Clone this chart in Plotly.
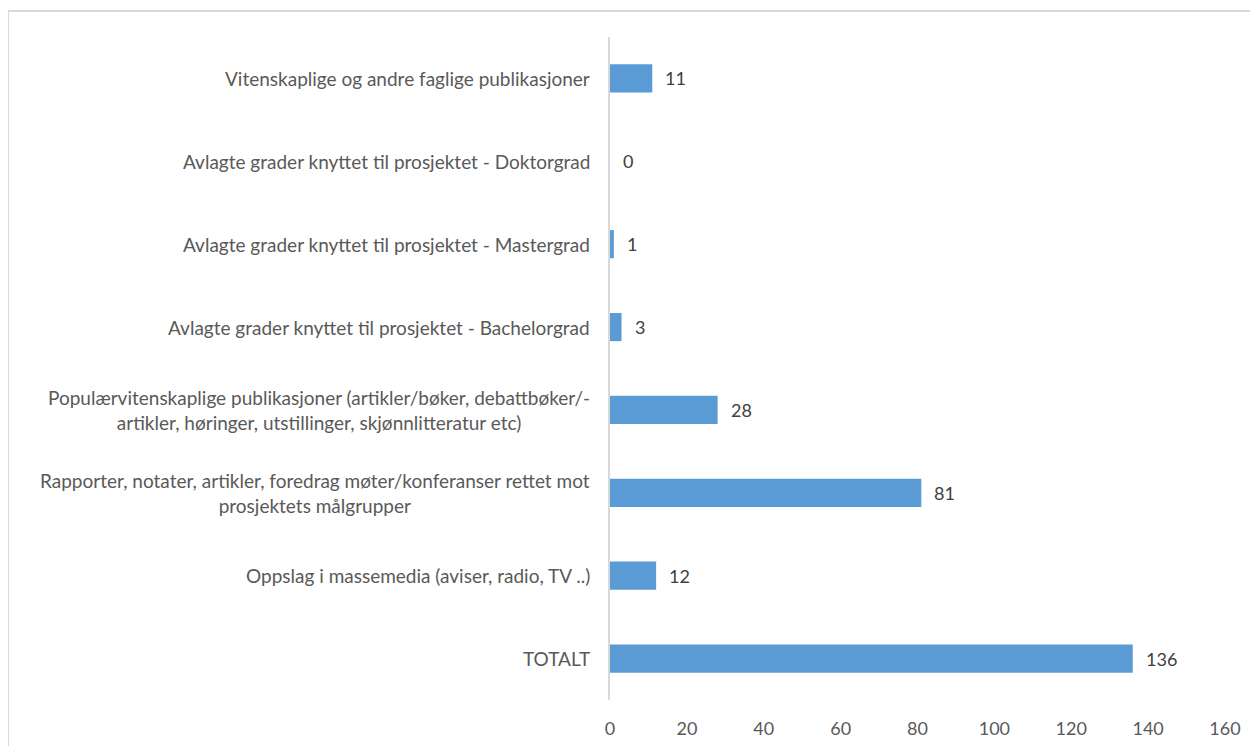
import plotly.graph_objects as go

categories = [
    "Vitenskaplige og andre faglige publikasjoner",
    "Avlagte grader knyttet til prosjektet - Doktorgrad",
    "Avlagte grader knyttet til prosjektet - Mastergrad",
    "Avlagte grader knyttet til prosjektet - Bachelorgrad",
    "Populærvitenskaplige publikasjoner (artikler/bøker, debattbøker/-<br>artikler, høringer, utstillinger, skjønnlitteratur etc)",
    "Rapporter, notater, artikler, foredrag møter/konferanser rettet mot<br>prosjektets målgrupper",
    "Oppslag i massemedia (aviser, radio, TV ..)",
    "TOTALT",
]
values = [11, 0, 1, 3, 28, 81, 12, 136]
x_ticks = [0, 20, 40, 60, 80, 100, 120, 140, 160]

FONT = "Lato"
GRAY = "#595959"

fig = go.Figure(go.Bar(
    x=values, y=categories, orientation="h",
    marker=dict(color="#5b9bd5", line=dict(width=0)),
    hoverinfo="skip",
))

annotations = []
for c, v in zip(categories, values):
    annotations.append(dict(
        x=v, y=c, xref="x", yref="y", text=str(v), showarrow=False,
        xanchor="left", xshift=11, font=dict(family=FONT, size=18, color="#404040"),
    ))
    annotations.append(dict(
        x=0, y=c, xref="paper", yref="y", text=c, showarrow=False,
        xanchor="right", align="center", xshift=-18,
        font=dict(family=FONT, size=19, color=GRAY),
    ))

# plot area: left 602, top 29, right 1217, bottom 692 (figure coords)
fig.update_layout(
    width=1258, height=746,
    margin=dict(l=602, r=41, t=29, b=54),
    paper_bgcolor="white", plot_bgcolor="white",
    bargap=0.66,
    showlegend=False,
    annotations=annotations,
    xaxis=dict(range=[0, 160], tickvals=x_ticks, showgrid=False, zeroline=False,
               showline=False, ticks="", ticklabelstandoff=16,
               tickfont=dict(family=FONT, size=18, color=GRAY)),
    yaxis=dict(categoryorder="array", categoryarray=categories, autorange="reversed",
               showticklabels=False, showgrid=False, zeroline=False,
               showline=True, linecolor="#d9d9d9", linewidth=2, ticks=""),
    shapes=[dict(type="rect", xref="paper", yref="paper",
                 x0=(0 - 602) / 615, x1=1.2, y0=-0.3, y1=1 + 26 / 663,
                 line=dict(color="#d9d9d9", width=2), fillcolor="rgba(0,0,0,0)",
                 layer="below")],
)

fig.write_html("out.html")
